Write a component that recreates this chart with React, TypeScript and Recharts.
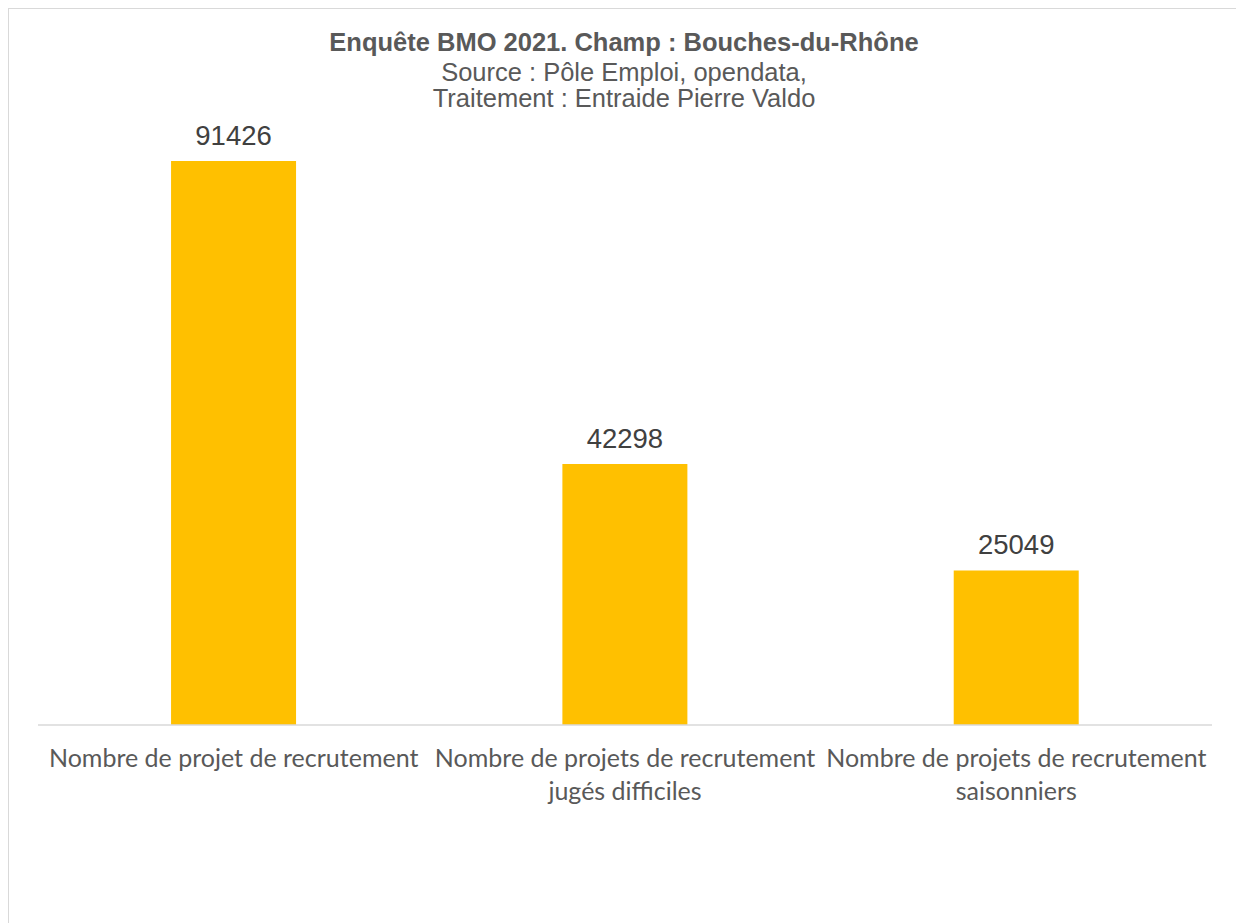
import React from "react";
import { BarChart, Bar, XAxis, YAxis, LabelList } from "recharts";

const categories = [
  "Nombre de projet de recrutement",
  "Nombre de projets de recrutement jugés difficiles",
  "Nombre de projets de recrutement saisonniers",
];
const categoryLines = [
  ["Nombre de projet de recrutement"],
  ["Nombre de projets de recrutement", "jugés difficiles"],
  ["Nombre de projets de recrutement", "saisonniers"],
];
const values = [91426, 42298, 25049];
const titleText = "Enquête BMO 2021. Champ : Bouches-du-Rhône";
const subtitleLines = ["Source : Pôle Emploi, opendata,", "Traitement : Entraide Pierre Valdo"];

const data = categories.map((c, i) => ({ name: c, value: values[i] }));

const CategoryTick = (props: any) => {
  const { x, y, index } = props;
  const lines = categoryLines[index] || [];
  return (
    <g>
      {lines.map((l, i) => (
        <text
          key={i}
          x={x}
          y={y + 34 + i * 33}
          textAnchor="middle"
          fill="#595959"
          fontSize={25}
          fontFamily="Lato, 'Open Sans', sans-serif"
        >
          {l}
        </text>
      ))}
    </g>
  );
};

export default function App() {
  const baselines = [42, 71.5, 98];
  const lines = [titleText, ...subtitleLines];
  return (
    <div
      style={{
        position: "relative",
        width: 1230,
        height: 918,
        border: "1px solid #d9d9d9",
        background: "#fff",
      }}
    >
      <div style={{ position: "absolute", left: 0, top: 0 }}>
        <BarChart
          width={1230}
          height={918}
          data={data}
          margin={{ top: 99, right: 27, bottom: 172, left: 29 }}
          barCategoryGap="34%"
        >
          <YAxis hide domain={[0, 100000]} />
          <XAxis
            dataKey="name"
            axisLine={{ stroke: "#d9d9d9", strokeWidth: 1.5 }}
            tickLine={false}
            tick={<CategoryTick />}
            interval={0}
          />
          <Bar dataKey="value" fill="#ffc000" isAnimationActive={false}>
            <LabelList
              dataKey="value"
              position="top"
              offset={16}
              fill="#404040"
              fontSize={27.5}
              fontFamily="'Liberation Sans', Arial, sans-serif"
            />
          </Bar>
        </BarChart>
      </div>
      <svg
        width={1230}
        height={120}
        style={{ position: "absolute", left: 0, top: 0 }}
        fontFamily="'Liberation Sans', Arial, sans-serif"
      >
        {lines.map((s, i) => (
          <text
            key={i}
            x={615}
            y={baselines[i]}
            textAnchor="middle"
            fill="#595959"
            fontSize={25.5}
            fontWeight={i === 0 ? "bold" : "normal"}
          >
            {s}
          </text>
        ))}
      </svg>
    </div>
  );
}
